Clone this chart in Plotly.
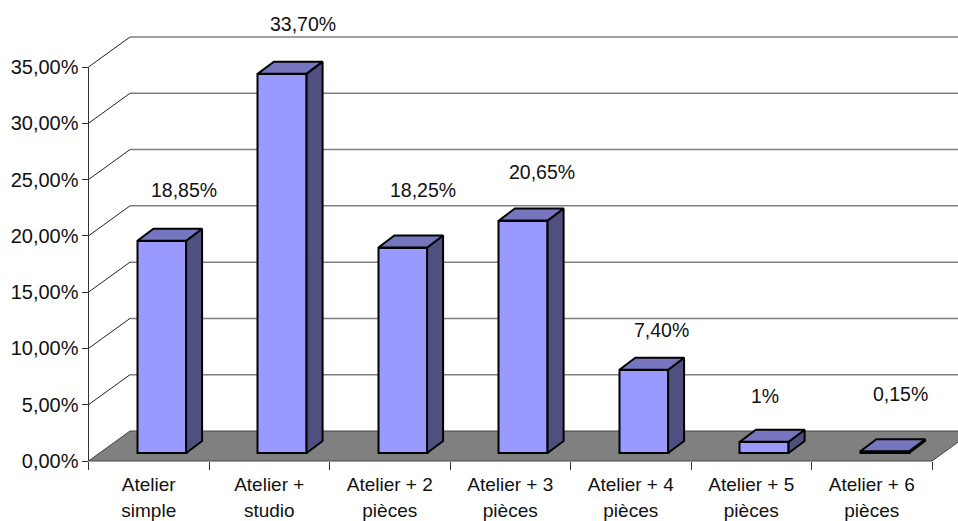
import plotly.graph_objects as go

# Share of dwellings per category
categories = ["Atelier simple", "Atelier + studio", "Atelier + 2 pièces", "Atelier + 3 pièces",
              "Atelier + 4 pièces", "Atelier + 5 pièces", "Atelier + 6 pièces"]
category_lines = [["Atelier", "simple"], ["Atelier +", "studio"], ["Atelier + 2", "pièces"],
                  ["Atelier + 3", "pièces"], ["Atelier + 4", "pièces"], ["Atelier + 5", "pièces"],
                  ["Atelier + 6", "pièces"]]
values = [18.85, 33.70, 18.25, 20.65, 7.40, 1.0, 0.15]
value_labels = ["18,85%", "33,70%", "18,25%", "20,65%", "7,40%", "1%", "0,15%"]
y_ticks = [0, 5, 10, 15, 20, 25, 30, 35]
y_tick_labels = ["0,00%", "5,00%", "10,00%", "15,00%", "20,00%", "25,00%", "30,00%", "35,00%"]

# Label nudges in pixels, relative to the top-centre of each bar's front face
label_dx = [22, 20.5, 20, 18.5, 17.5, 0.5, 15.5]
label_dy = [51, 50, 58, 49, 40, 46, 58]

W, H = 958, 521
LEFT, RIGHT, BOTTOM, TOP = 88.5, 932.0, 461.0, 67.0
X_UNIT = (RIGHT - LEFT) / 7          # pixels per category
Y_UNIT = (BOTTOM - TOP) / 35         # pixels per percentage point

# Oblique projection: depth of the box and of each bar
BOX_DX, BOX_DY = 41.5 / X_UNIT, 30.0 / Y_UNIT
BAR_DX, BAR_DY = 16.0 / X_UNIT, 12.0 / Y_UNIT
BAR_WIDTH = 48.7 / X_UNIT
BAR_SHIFT = 13.0 / X_UNIT
BAR_BASE = 8.0 / Y_UNIT

FRONT, SIDE, ROOF = "#9999FF", "#4F4F80", "#7676BF"
FLOOR, GRID = "#808080", "#808080"
TEXT = "#111111"
FONT = "Liberation Sans, Arial, sans-serif"
LABEL_SIZE = 19.5
AXIS_SIZE = 20
CATEGORY_SIZE = 19
EDGE = 2


def paper_x(cat):
    return (LEFT + (cat + 0.5) * X_UNIT) / W


def paper_y(val):
    return (H - (BOTTOM - val * Y_UNIT)) / H


def path(points):
    coords = [f"{paper_x(c)},{paper_y(v)}" for c, v in points]
    return "M" + "L".join(coords) + "Z"


shapes = []
# Back wall rules and the slanted side-wall rules leading to them
for t in y_ticks[1:]:
    shapes.append(dict(type="line", xref="paper", yref="paper", layer="below",
                       x0=paper_x(-0.5), y0=paper_y(t), x1=paper_x(-0.5 + BOX_DX), y1=paper_y(t + BOX_DY),
                       line=dict(color="#222222", width=1)))
    shapes.append(dict(type="line", xref="paper", yref="paper", layer="below",
                       x0=paper_x(-0.5 + BOX_DX), y0=paper_y(t + BOX_DY), x1=paper_x(6.5 + BOX_DX), y1=paper_y(t + BOX_DY),
                       line=dict(color=GRID, width=1.5)))
# Floor of the box
shapes.append(dict(type="path", xref="paper", yref="paper", layer="below",
                   path=path([(-0.5, 0), (-0.5 + BOX_DX, BOX_DY), (6.5 + BOX_DX, BOX_DY), (6.5, 0)]),
                   fillcolor=FLOOR, line=dict(color="#444444", width=1)))

fig = go.Figure()

# Front faces
fig.add_trace(go.Bar(x=categories, y=values, base=BAR_BASE, width=BAR_WIDTH,
                     offset=BAR_SHIFT - BAR_WIDTH / 2,
                     marker=dict(color=FRONT, line=dict(color="black", width=EDGE)),
                     hoverinfo="skip", showlegend=False))

# Side and top faces, one closed polygon per bar
side_x, side_y, roof_x, roof_y = [], [], [], []
for i, v in enumerate(values):
    x0 = i + BAR_SHIFT - BAR_WIDTH / 2
    x1 = i + BAR_SHIFT + BAR_WIDTH / 2
    y0, y1 = BAR_BASE, BAR_BASE + v
    side_x += [x1, x1 + BAR_DX, x1 + BAR_DX, x1, x1, None]
    side_y += [y0, y0 + BAR_DY, y1 + BAR_DY, y1, y0, None]
    roof_x += [x0, x1, x1 + BAR_DX, x0 + BAR_DX, x0, None]
    roof_y += [y1, y1, y1 + BAR_DY, y1 + BAR_DY, y1, None]

for xs, ys, color in ((side_x, side_y, SIDE), (roof_x, roof_y, ROOF)):
    fig.add_trace(go.Scatter(x=xs, y=ys, xaxis="x2", yaxis="y2", mode="lines", fill="toself",
                             fillcolor=color, line=dict(color="black", width=EDGE),
                             hoverinfo="skip", showlegend=False, cliponaxis=False))

annotations = []
for i, v in enumerate(values):
    annotations.append(dict(x=i + BAR_SHIFT, y=BAR_BASE + v, xref="x2", yref="y2",
                            text=value_labels[i], showarrow=False, xanchor="center", yanchor="middle",
                            xshift=label_dx[i], yshift=label_dy[i] - 0.5,
                            font=dict(family=FONT, size=LABEL_SIZE, color=TEXT)))

x_domain = [LEFT / W, RIGHT / W]
y_domain = [(H - BOTTOM) / H, (H - TOP) / H]

# The outer tick font sets the line pitch; the spans set the glyph size
tick_text = [f'<span style="font-size:{CATEGORY_SIZE}px">{a}</span><br>'
             f'<span style="font-size:{CATEGORY_SIZE}px">{b}</span>'
             for a, b in category_lines]

fig.update_layout(
    width=W, height=H, margin=dict(l=0, r=0, t=0, b=0), autosize=False,
    paper_bgcolor="white", plot_bgcolor="rgba(0,0,0,0)",
    bargap=0, shapes=shapes, annotations=annotations, showlegend=False,
    font=dict(family=FONT, color=TEXT),
    xaxis=dict(domain=x_domain, type="category", categoryorder="array", categoryarray=categories,
               range=[-0.5, 6.5], tickmode="array", tickvals=categories, ticktext=tick_text,
               tickson="boundaries", ticks="outside", ticklen=8, tickcolor="#333333", tickwidth=1,
               showline=False, showgrid=False, zeroline=False, tickangle=0, automargin=False,
               ticklabelstandoff=8,
               tickfont=dict(family=FONT, size=20.5, color=TEXT), anchor="y", fixedrange=True),
    yaxis=dict(domain=y_domain, range=[0, 35], tickmode="array", tickvals=y_ticks, ticktext=y_tick_labels,
               ticks="outside", ticklen=6, tickcolor="#333333", tickwidth=1,
               showline=True, linecolor="#333333", linewidth=1, automargin=False,
               showgrid=False, zeroline=False, ticklabelstandoff=-1,
               tickfont=dict(family=FONT, size=AXIS_SIZE, color=TEXT), anchor="x", fixedrange=True),
    # Free-standing axes for the oblique faces; the y one runs to the top of the page
    # so the tallest bar's roof is not clipped
    xaxis2=dict(domain=x_domain, range=[-0.5, 6.5], visible=False, anchor="y2", automargin=False),
    yaxis2=dict(domain=[y_domain[0], 1], range=[0, BOTTOM / Y_UNIT], visible=False,
                anchor="x2", automargin=False),
)

fig.write_html("out.html", config=dict(displayModeBar=False))
